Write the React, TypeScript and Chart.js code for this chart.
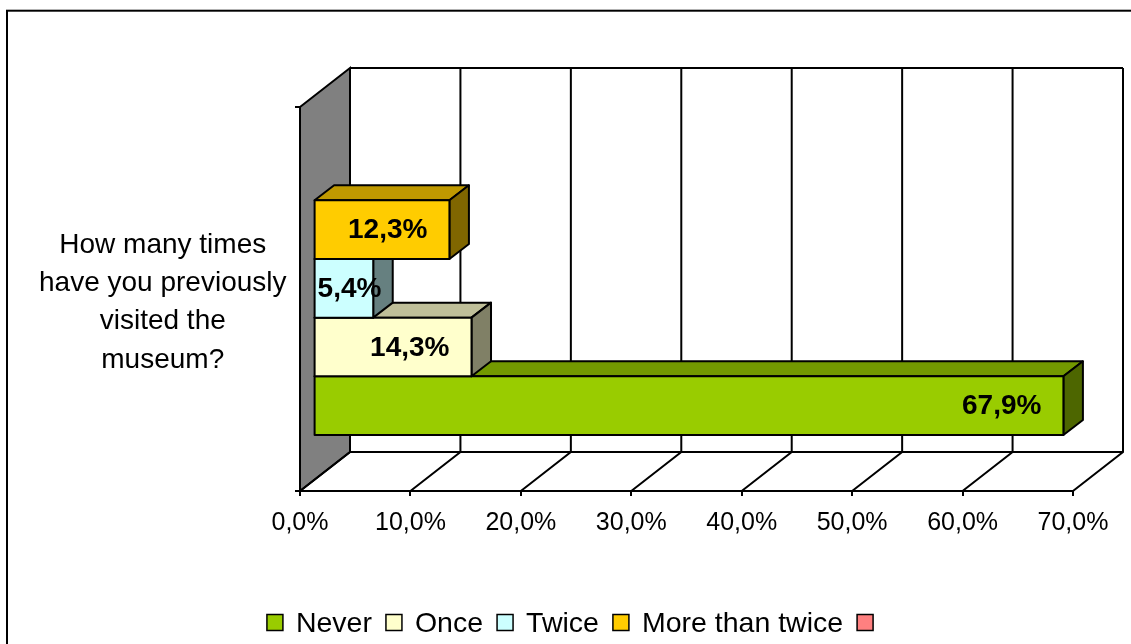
import React, { useEffect, useRef } from 'react';
import { Chart, registerables } from 'chart.js';

Chart.register(...registerables);

// ---------- data ----------
const CATEGORIES = [['How many times', 'have you previously', 'visited the', 'museum?']];
const SERIES_LABELS = ['Never', 'Once', 'Twice', 'More than twice', ''];
const SERIES_VALUES: (number | null)[] = [67.9, 14.3, 5.4, 12.3, null];
const X_MIN = 0;
const X_MAX = 70;
const X_STEP = 10;

// ---------- styles ----------
const FRONT_COLORS = ['#99CC00', '#FFFFCC', '#CCFFFF', '#FFCC00', '#FF8080'];
const TOP_COLORS = ['#739900', '#BFBF99', '#99BFBF', '#BF9900', '#BF6060'];
const SIDE_COLORS = ['#4D6600', '#808066', '#668080', '#806600', '#804040'];
const FONT = '"Liberation Sans", Arial, Helvetica, sans-serif';
const WALL_DEPTH = { dx: 50, dy: -39 };
const BAR_SHIFT = { dx: 13.6, dy: -10.7 };
const BAR_DEPTH = { dx: 19.5, dy: -15 };
const N = SERIES_LABELS.length;

const fmt = (v: number) => v.toFixed(1).replace('.', ',') + '%';
const seriesOf = (datasetIndex: number) => N - 1 - datasetIndex;

function poly(ctx: CanvasRenderingContext2D, pts: number[][], fill: string) {
  ctx.beginPath();
  ctx.moveTo(pts[0][0], pts[0][1]);
  for (let i = 1; i < pts.length; i++) ctx.lineTo(pts[i][0], pts[i][1]);
  ctx.closePath();
  ctx.fillStyle = fill;
  ctx.fill();
  ctx.stroke();
}

const excel3d = {
  id: 'excel3d',
  beforeDraw(chart: any) {
    const { ctx, chartArea: a, scales } = chart;
    const xs = scales.x;
    ctx.save();
    ctx.fillStyle = '#fff';
    ctx.fillRect(0, 0, chart.width, chart.height);
    ctx.strokeStyle = '#000';
    ctx.lineWidth = 2;
    ctx.strokeRect(7, 10.7, chart.width + 40, chart.height + 40);
    const bl = a.left + WALL_DEPTH.dx;
    const br = a.right + WALL_DEPTH.dx;
    const bt = a.top + WALL_DEPTH.dy;
    const bb = a.bottom + WALL_DEPTH.dy;
    // left wall
    poly(ctx, [[a.left, a.top], [bl, bt], [bl, bb], [a.left, a.bottom]], '#808080');
    // back wall, floor and grid
    ctx.beginPath();
    ctx.moveTo(bl, bt);
    ctx.lineTo(br, bt);
    ctx.moveTo(bl, bb);
    ctx.lineTo(br, bb);
    xs.ticks.forEach((t: any) => {
      const px = xs.getPixelForValue(t.value);
      ctx.moveTo(px, a.bottom);
      ctx.lineTo(px + WALL_DEPTH.dx, bb);
      ctx.lineTo(px + WALL_DEPTH.dx, bt);
    });
    ctx.stroke();
    ctx.restore();
  },
  beforeDatasetDraw(chart: any, args: any) {
    const { ctx } = chart;
    const s = seriesOf(args.index);
    const ds = chart.data.datasets[args.index];
    ctx.save();
    ctx.translate(BAR_SHIFT.dx, BAR_SHIFT.dy);
    ctx.strokeStyle = '#000';
    ctx.lineWidth = 2;
    ctx.lineJoin = 'round';
    args.meta.data.forEach((el: any, i: number) => {
      if (ds.data[i] == null) return;
      const { x, y, base, height } = el.getProps(['x', 'y', 'base', 'height'], true);
      const l = Math.min(base, x), r = Math.max(base, x);
      const t = y - height / 2, b = y + height / 2;
      const { dx, dy } = BAR_DEPTH;
      poly(ctx, [[l, t], [r, t], [r + dx, t + dy], [l + dx, t + dy]], TOP_COLORS[s]);
      poly(ctx, [[r, t], [r + dx, t + dy], [r + dx, b + dy], [r, b]], SIDE_COLORS[s]);
    });
  },
  afterDatasetDraw(chart: any, args: any) {
    const { ctx } = chart;
    const ds = chart.data.datasets[args.index];
    args.meta.data.forEach((el: any, i: number) => {
      if (ds.data[i] == null) return;
      const { x, y, base, height } = el.getProps(['x', 'y', 'base', 'height'], true);
      const l = Math.min(base, x), r = Math.max(base, x);
      ctx.strokeRect(l, y - height / 2, r - l, height);
    });
    ctx.restore();
  },
  afterDatasetsDraw(chart: any) {
    const { ctx } = chart;
    ctx.save();
    ctx.font = `bold 28px ${FONT}`;
    ctx.fillStyle = '#000';
    ctx.textBaseline = 'middle';
    ctx.textAlign = 'left';
    chart.data.datasets.forEach((ds: any, di: number) => {
      const meta = chart.getDatasetMeta(di);
      meta.data.forEach((el: any, i: number) => {
        const v = ds.data[i];
        if (v == null) return;
        const { x, y, base } = el.getProps(['x', 'y', 'base'], true);
        const txt = fmt(v);
        const w = ctx.measureText(txt).width;
        let left = x + BAR_SHIFT.dx - 22 - w;
        const minLeft = base + BAR_SHIFT.dx + 3;
        if (left < minLeft) left = minLeft;
        ctx.fillText(txt, left, y + BAR_SHIFT.dy + 1);
      });
    });
    ctx.restore();
  },
  afterDraw(chart: any) {
    const { ctx } = chart;
    ctx.save();
    ctx.font = `28.5px ${FONT}`;
    ctx.textBaseline = 'alphabetic';
    ctx.textAlign = 'left';
    const box = 16, gapText = 13, gapItem = 14;
    const widths = SERIES_LABELS.map((l) => (l ? ctx.measureText(l).width : 0));
    let total = 0;
    widths.forEach((w, i) => {
      total += box + (w ? gapText + w : 0) + (i < N - 1 ? gapItem : 0);
    });
    let cx = 570 - total / 2;
    const by = 614.5;
    ctx.lineWidth = 1.5;
    ctx.strokeStyle = '#000';
    SERIES_LABELS.forEach((lab, i) => {
      ctx.fillStyle = FRONT_COLORS[i];
      ctx.fillRect(cx, by, box, box);
      ctx.strokeRect(cx, by, box, box);
      cx += box;
      if (lab) {
        ctx.fillStyle = '#000';
        ctx.fillText(lab, cx + gapText, by + 17);
        cx += gapText + widths[i];
      }
      cx += gapItem;
    });
    ctx.restore();
  },
};

export default function App() {
  const ref = useRef<HTMLCanvasElement>(null);
  useEffect(() => {
    const datasets = SERIES_LABELS.map((_, k) => {
      const s = N - 1 - k;
      return {
        label: SERIES_LABELS[s],
        data: [SERIES_VALUES[s]],
        backgroundColor: FRONT_COLORS[s],
        borderWidth: 0,
        categoryPercentage: 0.764,
        barPercentage: 1,
      };
    });
    const chart = new Chart(ref.current as HTMLCanvasElement, {
      type: 'bar',
      data: { labels: CATEGORIES as any, datasets: datasets as any },
      options: {
        indexAxis: 'y',
        responsive: false,
        animation: false,
        events: [],
        layout: { padding: { left: 0, top: 107, right: 58, bottom: 108 } },
        plugins: { legend: { display: false }, tooltip: { enabled: false } },
        scales: {
          x: {
            type: 'linear',
            min: X_MIN,
            max: X_MAX,
            afterFit: (s: any) => { s.height = 45; },
            grid: { drawOnChartArea: false, drawTicks: true, tickLength: 5, color: '#000', lineWidth: 2 },
            border: { display: true, color: '#000', width: 2 },
            ticks: {
              stepSize: X_STEP,
              autoSkip: false,
              maxRotation: 0,
              padding: 12,
              color: '#000',
              font: { family: FONT, size: 25 },
              callback: (v: any) => fmt(Number(v)),
            },
          },
          y: {
            type: 'category',
            offset: true,
            afterFit: (s: any) => { s.width = 300; },
            grid: { offset: true, drawOnChartArea: false, drawTicks: true, tickLength: 5, color: '#000', lineWidth: 2 },
            border: { display: true, color: '#000', width: 2 },
            ticks: {
              crossAlign: 'center',
              padding: 8.5,
              labelOffset: 3.5,
              color: '#000',
              font: { family: FONT, size: 28, lineHeight: 1.37 },
            },
          },
        },
      } as any,
      plugins: [excel3d],
    });
    return () => chart.destroy();
  }, []);
  return (
    <div style={{ position: 'fixed', left: 0, top: 0, width: 1131, height: 644, background: '#fff' }}>
      <canvas ref={ref} width={1131} height={644} style={{ display: 'block', width: 1131, height: 644 }} />
    </div>
  );
}
